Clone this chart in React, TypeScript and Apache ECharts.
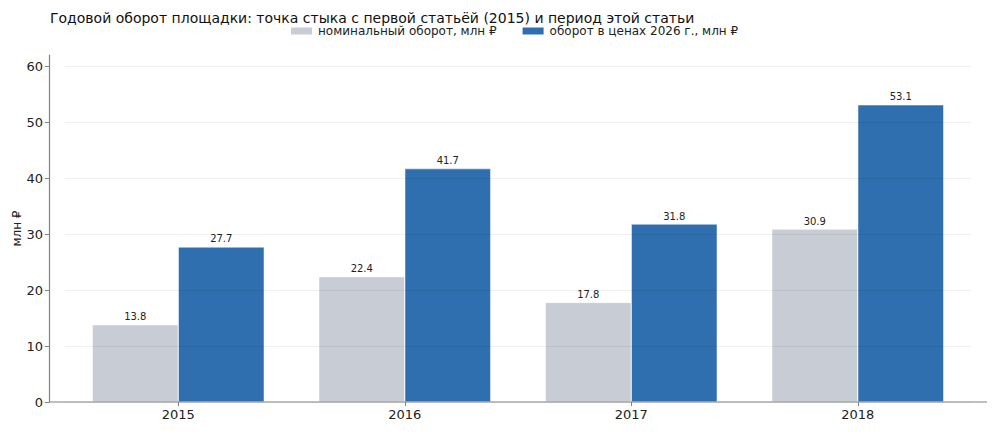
import React, { useEffect, useRef } from "react";
import * as echarts from "echarts";

const categories = ["2015", "2016", "2017", "2018"];
const nominal = [13.8, 22.4, 17.8, 30.9];
const real2026 = [27.7, 41.7, 31.8, 53.1];
const yTicks = [0, 10, 20, 30, 40, 50, 60];
const titleText = "Годовой оборот площадки: точка стыка с первой статьёй (2015) и период этой статьи";
const seriesNames = ["номинальный оборот, млн ₽", "оборот в ценах 2026 г., млн ₽"];

const FONT = "DejaVu Sans";

export default function App() {
  const ref = useRef<HTMLDivElement>(null);
  useEffect(() => {
    if (!ref.current) return;
    const chart = echarts.init(ref.current, null, { renderer: "svg" });
    const labelStyle = {
      show: true,
      position: "top" as const,
      distance: 3,
      fontFamily: FONT,
      fontSize: 10,
      color: "#222",
      formatter: (p: any) => p.value.toFixed(1),
    };
    chart.setOption({
      animation: false,
      backgroundColor: "#fff",
      textStyle: { fontFamily: FONT },
      title: {
        text: titleText,
        left: 45,
        top: 6,
        textStyle: { fontFamily: FONT, fontSize: 14, fontWeight: "normal", color: "#111" },
      },
      legend: {
        top: 20,
        left: 284,
        itemWidth: 23,
        itemHeight: 9,
        itemGap: 24,
        icon: "rect",
        textStyle: { fontFamily: FONT, fontSize: 12, color: "#222" },
        data: seriesNames,
      },
      grid: { left: 65, right: 29, top: 55, bottom: 31, containLabel: false, outerBoundsMode: "none" },
      xAxis: {
        type: "category",
        data: categories,
        axisLine: { show: false },
        axisTick: { show: true, alignWithLabel: true, length: 4, lineStyle: { color: "#808080" } },
        axisLabel: { fontFamily: FONT, fontSize: 13, color: "#222", margin: 6 },
      },
      yAxis: {
        type: "value",
        min: 0,
        max: 62,
        interval: 10,
        offset: 16,
        z: 3,
        name: "млн ₽",
        nameLocation: "middle",
        nameGap: 26,
        nameMoveOverlap: false,
        nameTextStyle: { fontFamily: FONT, fontSize: 12, color: "#222" },
        axisLine: { show: true, lineStyle: { color: "#808080", width: 1.2 } },
        axisTick: { show: true, length: 4, lineStyle: { color: "#808080" }, customValues: yTicks },
        axisLabel: { fontFamily: FONT, fontSize: 13, color: "#222", margin: 6, customValues: yTicks },
        splitLine: { show: true, lineStyle: { color: "rgba(0,0,0,0.06)", width: 1 } },
      },
      graphic: [
        {
          type: "line",
          shape: { x1: 49.5, y1: 402, x2: 987, y2: 402 },
          style: { stroke: "#808080", lineWidth: 1.2 },
          z: 100,
        },
      ],
      series: [
        {
          name: seriesNames[0],
          type: "bar",
          data: nominal,
          barWidth: 86,
          barGap: "0%",
          itemStyle: { color: "#c8ccd4", borderColor: "#ffffff", borderWidth: 0.5 },
          label: labelStyle,
        },
        {
          name: seriesNames[1],
          type: "bar",
          data: real2026,
          barWidth: 86,
          barGap: "0%",
          itemStyle: { color: "#2f6faf", borderColor: "#ffffff", borderWidth: 0.5 },
          label: labelStyle,
        },
      ],
    });
    return () => chart.dispose();
  }, []);
  return <div ref={ref} style={{ width: 1000, height: 433, position: "absolute", left: 0, top: 0 }} />;
}
